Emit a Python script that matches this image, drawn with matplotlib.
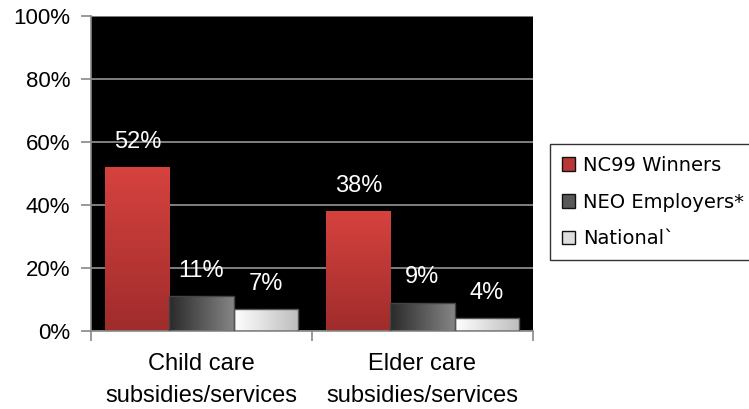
import matplotlib
matplotlib.use("Agg")
import matplotlib.pyplot as plt
import numpy as np
from matplotlib.colors import LinearSegmentedColormap
from matplotlib.patches import Rectangle

categories = ["Child care\nsubsidies/services", "Elder care\nsubsidies/services"]
series_names = ["NC99 Winners", "NEO Employers*", "National`"]
nc99 = [52, 38]
neo = [11, 9]
national = [7, 4]
yticks = [0, 20, 40, 60, 80, 100]

plt.rcParams['font.family'] = ['Liberation Sans', 'DejaVu Sans']

fig = plt.figure(figsize=(7.49, 4.09), dpi=100)
ax = fig.add_axes([91/749, 1-331/409, (533-91)/749, (331-16)/409])
ax.set_facecolor("black")
ax.set_xlim(0, 2)
ax.set_ylim(0, 100)

red_cmap = LinearSegmentedColormap.from_list("r", ["#a02c2c", "#d6423e"])
dark_cmap = LinearSegmentedColormap.from_list("d", ["#2a2a2a", "#858585"])
white_cmap = LinearSegmentedColormap.from_list("w", ["#ffffff", "#bdbdbd"])
series = [nc99, neo, national]
cmaps = [red_cmap, dark_cmap, white_cmap]
edges = ["none", "#444444", "#555555"]
vertical = [True, False, False]

bw = 0.29
offsets = [-bw, 0, bw]
x = np.arange(len(categories)) + 0.5

ax.yaxis.grid(True, color="#8a8a8a", linewidth=1.3)
ax.set_axisbelow(True)

handles = []
for vals, cm, ec, vert, off, name in zip(series, cmaps, edges, vertical, offsets, series_names):
    bars = ax.bar(x + off, vals, width=bw, color="none", edgecolor=ec, linewidth=1, zorder=3)
    for b, v in zip(bars, vals):
        x0, y0 = b.get_x(), b.get_y()
        w, h = b.get_width(), b.get_height()
        if vert:
            grad = np.linspace(0, 1, 100).reshape(-1, 1)
        else:
            grad = np.linspace(0, 1, 100).reshape(1, -1)
        im = ax.imshow(grad, cmap=cm, extent=[x0, x0 + w, y0, y0 + h], origin="lower",
                       aspect="auto", zorder=2, interpolation="bicubic")
        im.set_clip_path(b)
        ax.text(x0 + w / 2, v + 8, f"{v}%", color="white", ha="center", va="center",
                fontsize=17, zorder=4)
    handles.append(Rectangle((0, 0), 1, 1, facecolor=cm(0.5), edgecolor="#111111", linewidth=1))

ax.set_yticks(yticks)
ax.set_yticklabels([f"{t}%" for t in yticks], fontsize=16)
ax.set_xticks([0, 1, 2], minor=False)
ax.set_xticklabels([])
ax.set_xticks(x, minor=True)
ax.set_xticklabels(categories, minor=True, fontsize=17, linespacing=1.55)
ax.tick_params(axis="x", which="minor", length=0, pad=16)
ax.tick_params(axis="x", which="major", length=7, width=1.2, color="#888888", direction="out")
ax.tick_params(axis="y", length=7, width=1.2, color="#888888", direction="out", pad=8)
ax.set_xlim(0, 2)
for s in ["top", "right"]:
    ax.spines[s].set_visible(False)
ax.spines["left"].set_color("#888888")
ax.spines["bottom"].set_color("#888888")
ax.spines["left"].set_linewidth(1.2)
ax.spines["bottom"].set_linewidth(1.2)

leg = fig.legend(handles, series_names, loc="upper left",
                 bbox_to_anchor=(550/749, 1-144/409, 215/749, 0), mode="expand",
                 frameon=True, fancybox=False, edgecolor="black",
                 prop={"family": "DejaVu Sans", "size": 14},
                 handlelength=0.7, handleheight=0.7, labelspacing=0.92, borderpad=0.6,
                 handletextpad=0.4, borderaxespad=0)
leg.get_frame().set_linewidth(1.0)

fig.savefig("out.png", dpi=100)
